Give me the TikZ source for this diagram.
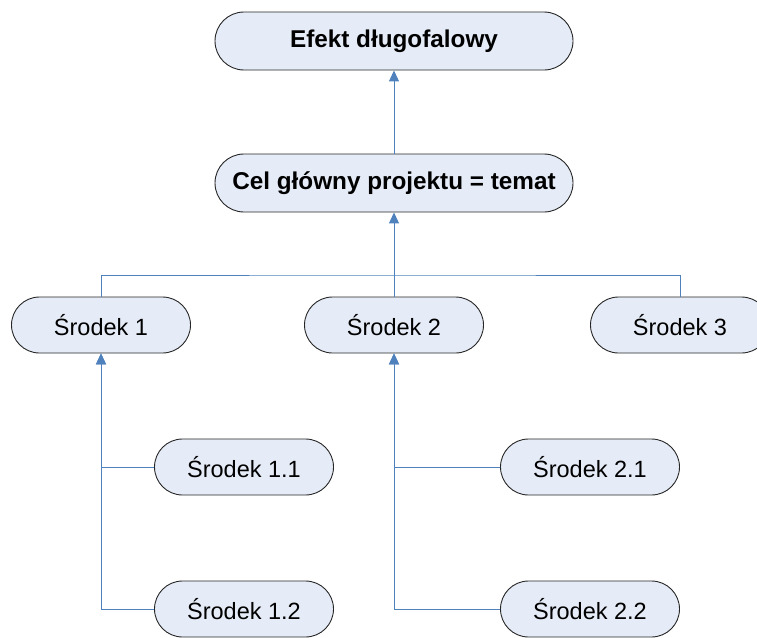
\documentclass[tikz,border=0pt]{standalone}
\usepackage{fontspec}
\setmainfont{Liberation Sans}
\usepackage{tikz}
\usetikzlibrary{arrows.meta, positioning}
\definecolor{Niebieski}{RGB}{79, 129, 189}
\definecolor{Jasny}{RGB}{230, 236, 247}

\begin{document}
\begin{tikzpicture}[
        x=1pt, y=-1pt,
        box/.style={
            rectangle,
            draw=black!85,
            fill=Jasny,
            rounded corners=28pt,
            line width=0.9pt,
            minimum width=179pt,
            minimum height=56pt,
            inner sep=0pt,
            align=center,
            font=\fontsize{23.5}{28}\selectfont
        },
        mainbox/.style={
            box,
            minimum width=358pt,
            minimum height=58pt,
            rounded corners=29pt,
            font=\fontsize{24.3}{28}\selectfont\bfseries
        },
        conn/.style={
            draw=Niebieski,
            line width=1pt,
            -{Triangle[length=11pt, width=10pt]}
        },
        link/.style={
            draw=Niebieski,
            line width=1pt
        }
    ]
        \useasboundingbox (0, 0) rectangle (757, 637);

        % Goals
        \node[mainbox] (efekt) at (394, 41) {Efekt długofalowy};
        \node[mainbox] (cel) at (394, 183) {Cel główny projektu = temat};

        % Means, first level
        \node[box] (s1) at (101, 325) {Środek 1};
        \node[box] (s2) at (394, 325) {Środek 2};
        \node[box] (s3) at (680, 325) {Środek 3};

        % Means, second level
        \node[box] (s11) at (244, 467) {Środek 1.1};
        \node[box] (s12) at (244, 609) {Środek 1.2};
        \node[box] (s21) at (590, 467) {Środek 2.1};
        \node[box] (s22) at (590, 609) {Środek 2.2};

        % Connections
        \coordinate (bar) at (394, 275);
        \draw[link] (s1.north) |- (bar) -| (s3.north);
        \draw[conn] (s2.north) -- (cel.south);
        \draw[conn] (cel.north) -- (efekt.south);
        \draw[conn] (s12.west) -| (s1.south);
        \draw[conn] (s11.west) -| (s1.south);
        \draw[conn] (s22.west) -| (s2.south);
        \draw[conn] (s21.west) -| (s2.south);

    \end{tikzpicture}
\end{document}
